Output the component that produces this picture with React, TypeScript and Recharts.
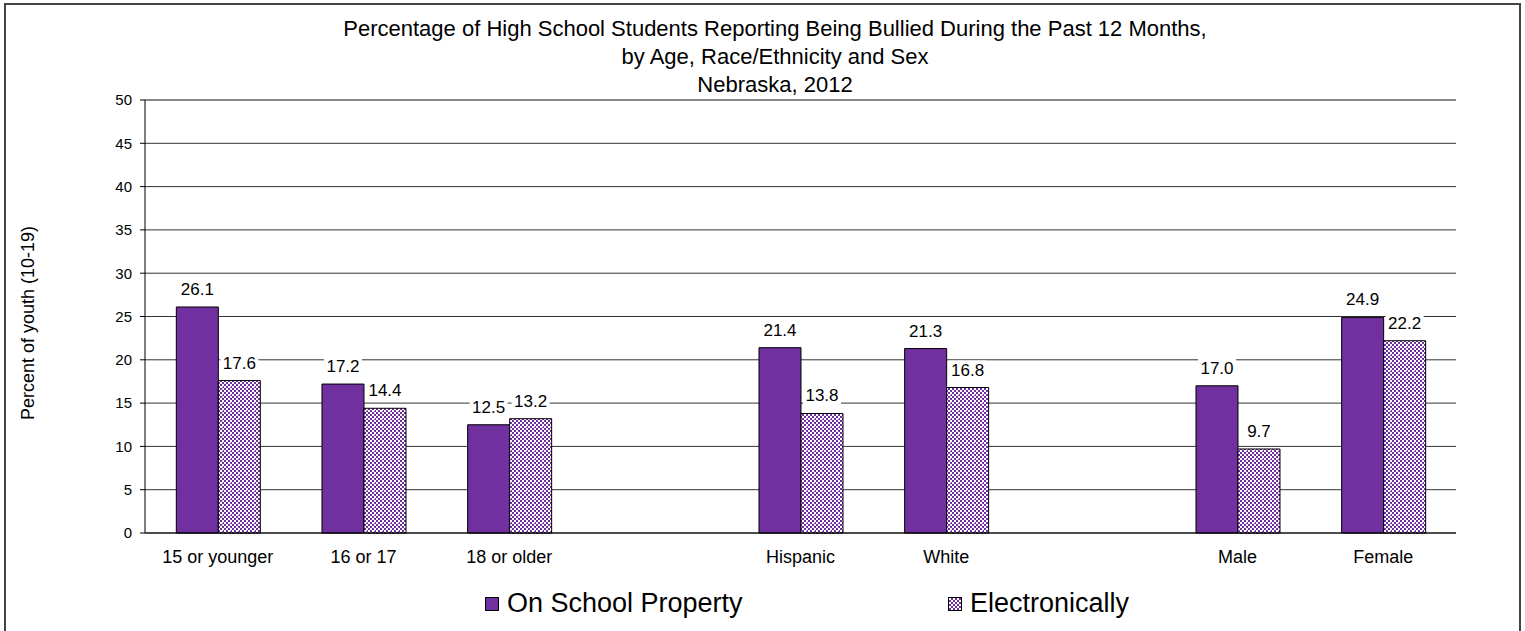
import React from "react";
import {
  BarChart,
  Bar,
  XAxis,
  YAxis,
  CartesianGrid,
  ReferenceLine,
  LabelList,
  Legend,
} from "recharts";

const FONT = '"Liberation Sans", Arial, sans-serif';
const PURPLE = "#7030A0";

// categories (blank slots separate the age / race / sex groups)
const groups = ["15 or younger", "16 or 17", "18 or older", " ", "Hispanic", "White", "  ", "Male", "Female"];
const onSchool = [26.1, 17.2, 12.5, null, 21.4, 21.3, null, 17.0, 24.9];
const electronic = [17.6, 14.4, 13.2, null, 13.8, 16.8, null, 9.7, 22.2];
const yTicks = [0, 5, 10, 15, 20, 25, 30, 35, 40, 45, 50];
const edgeTicks = [0, 1, 2, 3, 4, 5, 6, 7, 8, 9];
const titleLines = [
  "Percentage of High School Students Reporting Being Bullied During the Past 12 Months,",
  "by Age, Race/Ethnicity and Sex",
  "Nebraska, 2012",
];
const seriesNames = ["On School Property", "Electronically"];

const data = groups.map((g, i) => ({ group: g, school: onSchool[i], elec: electronic[i] }));

const ValueLabel = (props: any) => {
  const { x, y, width, value } = props;
  if (value == null) return null;
  const text = Number(value).toFixed(1);
  const cx = x + width / 2;
  const base = y - 12;
  const w = text.length * 8.5 + 4;
  return (
    <g>
      <rect x={cx - w / 2} y={base - 15} width={w} height={20} fill="#fff" />
      <text x={cx} y={base} textAnchor="middle" fontSize={17} fontFamily={FONT} fill="#000">
        {text}
      </text>
    </g>
  );
};

const renderLegend = () => {
  const lefts = [485, 948];
  return (
    <div style={{ position: "relative", width: 1525, height: 34, fontFamily: FONT }}>
      {seriesNames.map((name, i) => (
        <div key={name}>
          <div
            style={{
              position: "absolute",
              left: lefts[i],
              top: 9,
              width: 12,
              height: 12,
              border: "1px solid #000",
              backgroundColor: i === 0 ? PURPLE : "#fff",
              backgroundImage:
                i === 0 ? "none" : `repeating-conic-gradient(${PURPLE} 0% 25%, #fff 0% 50%)`,
              backgroundSize: i === 0 ? undefined : "4px 4px",
            }}
          />
          <div
            style={{
              position: "absolute",
              left: lefts[i] + 22,
              top: 0,
              fontSize: 27,
              lineHeight: "30px",
              color: "#000",
              whiteSpace: "nowrap",
            }}
          >
            {name}
          </div>
        </div>
      ))}
    </div>
  );
};

export default function App() {
  return (
    <div style={{ position: "fixed", left: 0, top: 0, width: 1525, height: 631, background: "#fff", fontFamily: FONT }}>
      <div
        style={{
          position: "absolute",
          left: 4,
          top: 3,
          width: 1513,
          height: 640,
          borderTop: "2px solid #444",
          borderLeft: "2px solid #444",
          borderRight: "2px solid #444",
        }}
      />
      <div
        style={{
          position: "absolute",
          left: 0,
          top: 15,
          width: 1550,
          textAlign: "center",
          fontSize: 22,
          lineHeight: "28px",
          color: "#000",
        }}
      >
        {titleLines.map((t) => (
          <div key={t}>{t}</div>
        ))}
      </div>
      <div
        style={{
          position: "absolute",
          left: 28 - 150,
          top: 323 - 12,
          width: 300,
          height: 24,
          lineHeight: "24px",
          textAlign: "center",
          fontSize: 18,
          color: "#000",
          transform: "rotate(-90deg)",
        }}
      >
        Percent of youth (10-19)
      </div>
      <div style={{ position: "absolute", left: 0, top: 0 }}>
        <BarChart
          width={1525}
          height={631}
          data={data}
          margin={{ top: 100, right: 69, bottom: 68, left: 85 }}
          barCategoryGap="21.5%"
          barGap={0}
        >
          <defs>
            <pattern id="elecPattern" width="8" height="8" patternUnits="userSpaceOnUse">
              <rect width="8" height="8" fill="#fff" />
              <rect x="0" y="0" width="2" height="2" fill={PURPLE} />
              <rect x="4" y="0" width="2" height="2" fill={PURPLE} />
              <rect x="2" y="2" width="2" height="2" fill={PURPLE} />
              <rect x="6" y="2" width="2" height="2" fill={PURPLE} />
              <rect x="0" y="4" width="2" height="2" fill={PURPLE} />
              <rect x="4" y="4" width="2" height="2" fill={PURPLE} />
              <rect x="2" y="6" width="2" height="2" fill={PURPLE} />
              <rect x="6" y="6" width="2" height="2" fill={PURPLE} />
              <rect x="6" y="2" width="1" height="1" fill="#fff" />
            </pattern>
          </defs>
          <CartesianGrid horizontal vertical={false} stroke="#333" strokeWidth={1} />
          <XAxis
            xAxisId="edge"
            type="number"
            domain={[0, 9]}
            ticks={edgeTicks}
            allowDataOverflow
            tick={false}
            tickLine={{ stroke: "#000" }}
            tickSize={5}
            axisLine={false}
            height={0}
          />
          <XAxis
            dataKey="group"
            tickLine={false}
            tickSize={5}
            tickMargin={12}
            axisLine={{ stroke: "#000" }}
            height={30}
            interval={0}
            tick={{ fontSize: 18, fill: "#000", fontFamily: FONT }}
          />
          <YAxis
            domain={[0, 50]}
            ticks={yTicks}
            width={60}
            tickSize={5}
            tickMargin={8}
            tickLine={{ stroke: "#000" }}
            axisLine={{ stroke: "#000" }}
            tick={{ fontSize: 15, fill: "#000", fontFamily: FONT }}
          />
          <YAxis
            yAxisId="right"
            orientation="right"
            domain={[0, 50]}
            width={0}
            tick={false}
            tickLine={false}
            axisLine={{ stroke: "#888", strokeWidth: 2 }}
          />
          <ReferenceLine y={50} stroke="#888" strokeWidth={2} />
          <Bar dataKey="school" name={seriesNames[0]} fill={PURPLE} stroke="#000" strokeWidth={1} isAnimationActive={false}>
            <LabelList dataKey="school" content={ValueLabel} />
          </Bar>
          <Bar dataKey="elec" name={seriesNames[1]} fill="url(#elecPattern)" stroke="#000" strokeWidth={1} isAnimationActive={false}>
            <LabelList dataKey="elec" content={ValueLabel} />
          </Bar>
          <Legend
            layout="horizontal"
            verticalAlign="middle"
            align="center"
            content={renderLegend}
            wrapperStyle={{ position: "absolute", top: 588, left: 0, width: 1525 }}
          />
        </BarChart>
      </div>
    </div>
  );
}
